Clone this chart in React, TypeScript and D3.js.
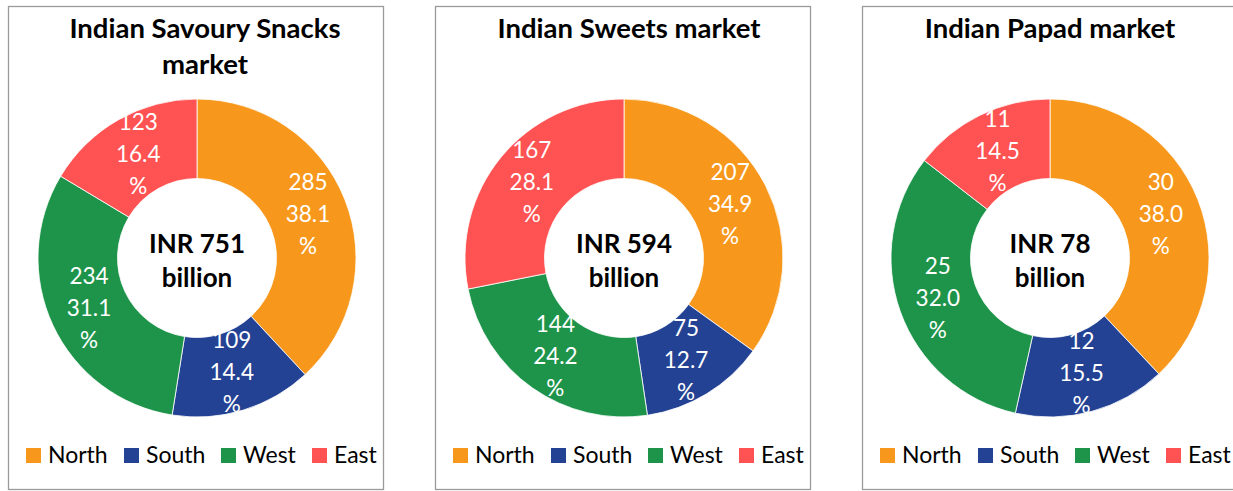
import React from "react";
import * as d3 from "d3";

const categories = ["North", "South", "West", "East"];
const sliceColors = ["#F7981D", "#244294", "#1E944B", "#FF5252"];

const snacksValues = [285, 109, 234, 123];
const snacksShares = [38.1, 14.4, 31.1, 16.4];
const sweetsValues = [207, 75, 144, 167];
const sweetsShares = [34.9, 12.7, 24.2, 28.1];
const papadValues = [30, 12, 25, 11];
const papadShares = [38.0, 15.5, 32.0, 14.5];

const marketTotals = [751, 594, 78];
const marketTitles = [
  ["Indian Savoury Snacks", "market"],
  ["Indian Sweets market"],
  ["Indian Papad market"],
];

const seriesValues = [snacksValues, sweetsValues, papadValues];
const seriesShares = [snacksShares, sweetsShares, papadShares];

// layout (page coordinates)
const panelLefts = [8, 435, 862];
const panelTop = 6;
const panelW = 375;
const panelH = 483;
const centerOffsets = [189, 189, 188];
const titleOffsets = [197, 194, 188];
const centerY = 258;
const outerR = 159;
const innerR = 79.5;
const legendOffsets = [18, 116, 213, 304];

const FONT = "Lato, 'Open Sans', sans-serif";

export default function App() {
  const pie = d3
    .pie<number>()
    .sort(null)
    .value((d) => d);
  const arc = d3.arc<d3.PieArcDatum<number>>().innerRadius(innerR).outerRadius(outerR);

  return (
    <svg
      width={1233}
      height={491}
      style={{ position: "absolute", left: 0, top: 0, background: "#fff" }}
      fontFamily={FONT}
    >
      <rect x={0} y={0} width={1233} height={491} fill="#fff" />
      {marketTitles.map((title, pi) => {
        const left = panelLefts[pi];
        const cx = left + centerOffsets[pi];
        const tx = left + titleOffsets[pi];
        const arcs = pie(seriesShares[pi]);
        return (
          <g key={pi}>
            <rect
              x={left + 0.5}
              y={panelTop + 0.5}
              width={panelW}
              height={panelH}
              fill="#fff"
              stroke="#9a9a9a"
              strokeWidth={1.3}
            />
            {title.map((line, li) => (
              <text
                key={li}
                x={tx}
                y={38 + li * 36}
                textAnchor="middle"
                fontWeight={700}
                fontSize={27.5}
                fill="#000"
              >
                {line}
              </text>
            ))}
            <g transform={`translate(${cx},${centerY})`}>
              {arcs.map((a, i) => (
                <path
                  key={i}
                  d={arc(a) as string}
                  fill={sliceColors[i]}
                  stroke="#fff"
                  strokeWidth={0.8}
                />
              ))}
              {arcs.map((a, i) => {
                const [lx, ly] = arc.centroid(a);
                const lines = [
                  String(seriesValues[pi][i]),
                  seriesShares[pi][i].toFixed(1),
                  "%",
                ];
                return (
                  <g key={i}>
                    {lines.map((t, k) => (
                      <text
                        key={k}
                        x={lx}
                        y={ly + (k - 1) * 32 + 8}
                        textAnchor="middle"
                        fontSize={22.5}
                        fill="#fff"
                      >
                        {t}
                      </text>
                    ))}
                  </g>
                );
              })}
              <text
                x={0}
                y={-5}
                textAnchor="middle"
                fontWeight={700}
                fontSize={26}
                fill="#000"
              >
                {`INR ${marketTotals[pi]}`}
              </text>
              <text
                x={0}
                y={29}
                textAnchor="middle"
                fontWeight={700}
                fontSize={26}
                fill="#000"
              >
                billion
              </text>
            </g>
            {categories.map((c, i) => (
              <g key={c}>
                <rect
                  x={left + legendOffsets[i]}
                  y={448}
                  width={15}
                  height={15}
                  fill={sliceColors[i]}
                />
                <text
                  x={left + legendOffsets[i] + 22}
                  y={463}
                  fontSize={23}
                  fill="#000"
                >
                  {c}
                </text>
              </g>
            ))}
          </g>
        );
      })}
    </svg>
  );
}
